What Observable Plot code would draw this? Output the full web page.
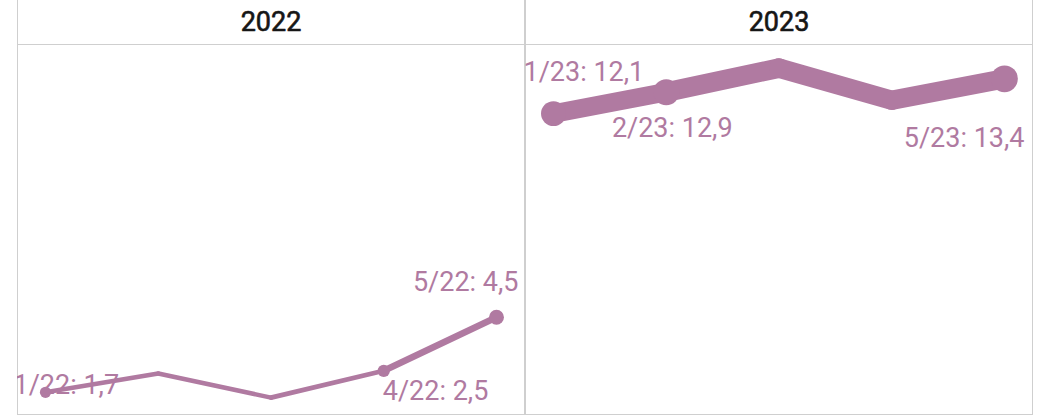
<!DOCTYPE html>
<html>
<head>
<meta charset="utf-8">
<script src="https://cdn.jsdelivr.net/npm/d3@7"></script>
<script src="https://cdn.jsdelivr.net/npm/@observablehq/plot@0.6"></script>
<style>
  html, body { margin: 0; padding: 0; background: #fff; }
  #chart { width: 1038px; height: 418px; }
</style>
</head>
<body>
<div id="chart"></div>
<script>
// ---- data ----
const years = ["2022", "2023"];
const months = [1, 2, 3, 4, 5];
const values2022 = [1.7, 2.4, 1.5, 2.5, 4.5];
const values2023 = [12.1, 12.9, 13.8, 12.6, 13.4];
const labeledMonths2022 = [1, 4, 5];
const labeledMonths2023 = [1, 2, 5];

// ---- derived tables ----
const seriesByYear = {"2022": values2022, "2023": values2023};
const labeledByYear = {"2022": labeledMonths2022, "2023": labeledMonths2023};
const rows = [];
years.forEach(yr => {
  months.forEach((m, j) => {
    rows.push({year: yr, month: m, value: seriesByYear[yr][j], labeled: labeledByYear[yr].includes(m)});
  });
});
const segments = [];
years.forEach(yr => {
  const r = rows.filter(d => d.year === yr);
  for (let i = 0; i < r.length - 1; i++) {
    segments.push({year: yr, m1: r[i].month, v1: r[i].value, m2: r[i + 1].month, v2: r[i + 1].value});
  }
});
const fmt = v => String(v).replace(".", ",");
const labelText = d => `${d.month}/${d.year.slice(2)}: ${fmt(d.value)}`;

// ---- style ----
const color = "#b07aa1";
const widthOf = d3.scaleLinear([0, 14], [2, 20.5]);
const placement = {
  "2022-1": {textAnchor: "start", dx: -32, dy: -7},
  "2022-4": {textAnchor: "start", dx: -1, dy: 21},
  "2022-5": {textAnchor: "end", dx: 22, dy: -35},
  "2023-1": {textAnchor: "start", dx: -30, dy: -41},
  "2023-2": {textAnchor: "middle", dx: 6, dy: 36},
  "2023-5": {textAnchor: "end", dx: 20, dy: 60}
};
const labeled = rows.filter(d => d.labeled);

const textMarks = labeled.map(d => {
  const p = placement[`${d.year}-${d.month}`];
  return Plot.text([d], {
    fx: "year", x: "month", y: "value", text: labelText,
    textAnchor: p.textAnchor, dx: p.dx, dy: p.dy, lineAnchor: "middle",
    fill: color, fontSize: 27, fontFamily: "Roboto", clip: "frame"
  });
});

const chart = Plot.plot({
  width: 1038,
  height: 418,
  marginLeft: 16,
  marginRight: 6,
  marginTop: 44,
  marginBottom: 4,
  style: {fontFamily: "Roboto", background: "#fff"},
  fx: {domain: years, axis: null, paddingInner: 0.002, paddingOuter: 0},
  x: {domain: [1, 5], insetLeft: 28, insetRight: 28, axis: null},
  y: {domain: [0.87, 14.68], axis: null},
  r: {type: "identity"},
  marks: [
    Plot.frame({stroke: "#cfcfcf", strokeOpacity: 1}),
    Plot.frame({stroke: "#cfcfcf", strokeOpacity: 1, insetTop: -46}),
    Plot.text(years, {fx: d => d, text: d => d, frameAnchor: "top", dy: -22, lineAnchor: "middle",
      fontSize: 27, fontWeight: 400, fill: "#161616", stroke: "#161616", strokeWidth: 0.6,
      fontFamily: "Roboto"}),
    ...textMarks,
    Plot.link(segments, {
      fx: "year", x1: "m1", y1: "v1", x2: "m2", y2: "v2",
      stroke: color, strokeWidth: d => widthOf((d.v1 + d.v2) / 2), strokeLinecap: "round"
    }),
    Plot.dot(labeled, {fx: "year", x: "month", y: "value", r: d => widthOf(d.value) / 2 + 3.5, fill: color})
  ]
});
document.getElementById("chart").appendChild(chart);
</script>
</body>
</html>
